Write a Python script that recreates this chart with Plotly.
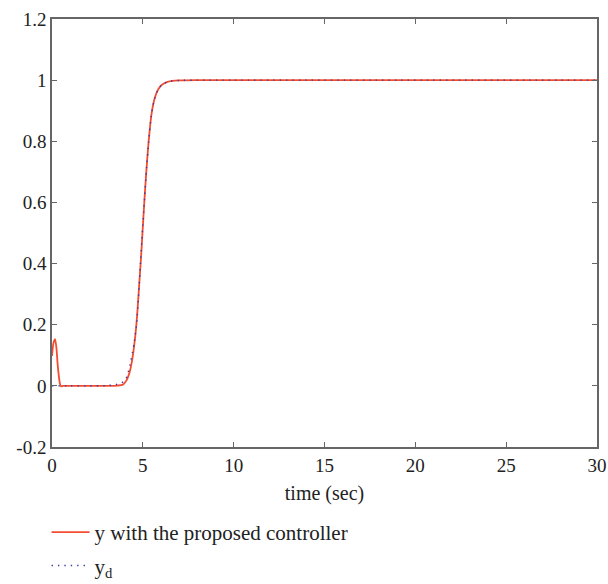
import plotly.graph_objects as go

# Output response of the closed loop with the proposed controller
t_y = [0, 0.08, 0.17, 0.25, 0.31, 0.38, 0.44, 0.5, 0.6, 1.0, 2.0, 3.0, 3.6, 3.9,
       4.1, 4.25, 4.4, 4.52, 4.63, 4.72, 4.81, 4.9, 4.98, 5.08, 5.19, 5.32, 5.48,
       5.65, 5.85, 6.05, 6.4, 7.0, 8.0, 10.0, 30.0]
y = [0.098, 0.14, 0.153, 0.12, 0.071, 0.03, 0.006, -0.002, 0.0, 0.0, 0.0, 0.0, 0.001, 0.004,
     0.018, 0.04, 0.08, 0.13, 0.19, 0.26, 0.34, 0.42, 0.5, 0.6, 0.7, 0.8, 0.89,
     0.94, 0.97, 0.985, 0.995, 0.999, 1.0, 1.0, 1.0]

# Desired trajectory y_d
t_d = [0, 1.0, 2.0, 3.0, 3.5, 3.8, 4.05, 4.3, 4.52, 4.67, 4.77, 4.87, 4.97, 5.08,
       5.19, 5.32, 5.48, 5.65, 5.85, 6.05, 6.4, 7.0, 8.0, 10.0, 30.0]
y_d = [0, 0, 0, 0.001, 0.004, 0.009, 0.02, 0.07, 0.14, 0.21, 0.3, 0.4, 0.5, 0.6,
       0.7, 0.8, 0.89, 0.94, 0.97, 0.985, 0.995, 0.999, 1.0, 1.0, 1.0]

x_ticks = [0, 5, 10, 15, 20, 25, 30]
y_ticks = [-0.2, 0, 0.2, 0.4, 0.6, 0.8, 1.0, 1.2]
y_tick_text = ["-0.2", "0", "0.2", "0.4", "0.6", "0.8", "1", "1.2"]

FONT = "Liberation Serif"
TEXT_COLOR = "#222222"
AXIS_COLOR = "#666666"

fig = go.Figure()
fig.add_trace(go.Scatter(
    x=t_y, y=y, mode="lines",
    line=dict(color="#f24d30", width=1.8, shape="spline", smoothing=0.6),
    name="y with the proposed controller", legendgroup="a",
))
fig.add_trace(go.Scatter(
    x=t_d, y=y_d, mode="lines",
    line=dict(color="#3a3aa6", width=1.4, dash="1.4px,5px", shape="spline", smoothing=0.6),
    name="y<sub>d</sub>", legendgroup="b",
))

axis_common = dict(
    showline=True, linecolor=AXIS_COLOR, linewidth=1.5, mirror="ticks",
    ticks="inside", ticklen=5, tickwidth=1.2, tickcolor=AXIS_COLOR,
    showgrid=False, zeroline=False,
    tickfont=dict(family=FONT, size=19, color=TEXT_COLOR),
)

fig.update_xaxes(
    range=[0, 30], tickvals=x_ticks, ticktext=[str(v) for v in x_ticks],
    title=dict(text="time (sec)", font=dict(family=FONT, size=20, color=TEXT_COLOR), standoff=11),
    **axis_common,
)
fig.update_yaxes(
    range=[-0.2, 1.2], tickvals=y_ticks, ticktext=y_tick_text,
    **axis_common,
)

fig.update_layout(
    width=608, height=584,
    margin=dict(l=52, r=11, t=19, b=137, autoexpand=False),
    plot_bgcolor="white", paper_bgcolor="white",
    font=dict(family=FONT, size=20, color=TEXT_COLOR),
    showlegend=True,
    legend=dict(
        x=-0.01, xanchor="left", y=-0.152, yanchor="top",
        bgcolor="rgba(0,0,0,0)", tracegroupgap=3,
        font=dict(family=FONT, size=21, color=TEXT_COLOR),
        itemwidth=38,
    ),
)

fig.write_html("out.html")
